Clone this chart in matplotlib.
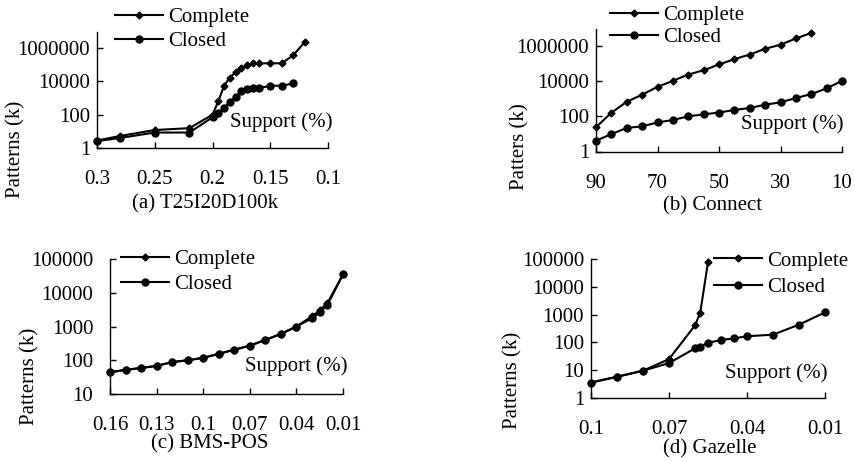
import matplotlib
matplotlib.use('Agg')
import matplotlib.pyplot as plt
from matplotlib.ticker import FixedLocator, FixedFormatter, NullLocator
from matplotlib.lines import Line2D

# ---------------- data ----------------
a_x_complete = [0.3, 0.28, 0.25, 0.22, 0.2, 0.195, 0.19, 0.185, 0.18, 0.175, 0.17, 0.165, 0.16, 0.15, 0.14, 0.13, 0.12]
a_complete = [2.8, 5.3, 12, 15.6, 100, 640, 5500, 17000, 36000, 61000, 97000, 123000, 123000, 123000, 123000, 380000, 2400000]
a_x_closed = [0.3, 0.28, 0.25, 0.22, 0.2, 0.195, 0.19, 0.185, 0.18, 0.175, 0.17, 0.165, 0.16, 0.15, 0.14, 0.13]
a_closed = [2.6, 4, 8.5, 8.5, 70, 120, 250, 590, 1200, 2500, 3300, 3900, 3900, 5500, 5500, 7600]

b_x_complete = [90, 85, 80, 75, 70, 65, 60, 55, 50, 45, 40, 35, 30, 25, 20]
b_complete = [24, 160, 680, 1700, 4800, 10500, 24000, 42000, 90000, 180000, 330000, 700000, 1200000, 2700000, 5600000]
b_x_closed = [90, 85, 80, 75, 70, 65, 60, 55, 50, 45, 40, 35, 30, 25, 20, 15, 10]
b_closed = [4.1, 9.8, 22, 27, 45, 62, 100, 130, 165, 230, 300, 460, 630, 1100, 1850, 3900, 10500]

c_x = [0.16, 0.15, 0.14, 0.13, 0.12, 0.11, 0.10, 0.09, 0.08, 0.07, 0.06, 0.05, 0.04, 0.03, 0.025, 0.02, 0.01]
c_complete = [44, 52, 59, 68, 88, 100, 118, 155, 205, 270, 400, 600, 1000, 2000, 3000, 5000, 35000]
c_closed = [44, 52, 59, 68, 88, 100, 118, 155, 205, 270, 400, 600, 1000, 1750, 2600, 4400, 35000]

d_x_complete = [0.1, 0.09, 0.08, 0.07, 0.06, 0.058, 0.055]
d_complete = [3.6, 5.8, 9.6, 25, 410, 1170, 76000]
d_x_closed = [0.1, 0.09, 0.08, 0.07, 0.06, 0.058, 0.055, 0.05, 0.045, 0.04, 0.03, 0.02, 0.01]
d_closed = [3.6, 5.8, 9.6, 18, 61, 70, 97, 122, 140, 166, 190, 435, 1200]

series_names = ["Complete", "Closed"]

a_xticks = [0.3, 0.25, 0.2, 0.15, 0.1]
a_xticklabels = ["0.3", "0.25", "0.2", "0.15", "0.1"]
b_xticks = [90, 70, 50, 30, 10]
b_xticklabels = ["90", "70", "50", "30", "10"]
c_xticks = [0.16, 0.13, 0.1, 0.07, 0.04, 0.01]
c_xticklabels = ["0.16", "0.13", "0.1", "0.07", "0.04", "0.01"]
d_xticks = [0.1, 0.07, 0.04, 0.01]
d_xticklabels = ["0.1", "0.07", "0.04", "0.01"]

ab_yticks = [1, 100, 10000, 1000000]
ab_yticklabels = ["1", "100", "10000", "1000000"]
c_yticks = [10, 100, 1000, 10000, 100000]
c_yticklabels = ["10", "100", "1000", "10000", "100000"]
d_yticks = [1, 10, 100, 1000, 10000, 100000]
d_yticklabels = ["1", "10", "100", "1000", "10000", "100000"]

# ---------------- figure ----------------
plt.rcParams['font.family'] = ['Liberation Serif', 'DejaVu Serif']
FS = 15
W, H = 855, 462
fig = plt.figure(figsize=(W / 100, H / 100), dpi=100)


def rect(l, t, r, b):
    return [l / W, 1 - b / H, (r - l) / W, (b - t) / H]


def ftext(x, y, s, **kw):
    fig.text(x / W, 1 - y / H, s, fontsize=FS, **kw)


def setup(ax, xlim, ylim, xt, xtl, yt, ytl, ypad):
    ax.set_yscale('log')
    ax.set_xlim(*xlim)
    ax.set_ylim(*ylim)
    ax.xaxis.set_major_locator(FixedLocator(xt))
    ax.xaxis.set_major_formatter(FixedFormatter(xtl))
    ax.yaxis.set_major_locator(FixedLocator(yt))
    ax.yaxis.set_major_formatter(FixedFormatter(ytl))
    ax.xaxis.set_minor_locator(NullLocator())
    ax.yaxis.set_minor_locator(NullLocator())
    for s in ['top', 'right']:
        ax.spines[s].set_visible(False)
    for s in ['left', 'bottom']:
        ax.spines[s].set_linewidth(1.0)
    ax.tick_params(axis='x', direction='in', length=4, width=1, labelsize=FS, pad=16)
    ax.tick_params(axis='y', direction='in', length=4, width=1, labelsize=FS, pad=ypad)
    ax.patch.set_alpha(0)


def plot_lines(ax, xc, yc, xd, yd):
    l1, = ax.plot(xc, yc, color='black', lw=1.5, marker='D', ms=3.5, clip_on=False, label=series_names[0])
    l2, = ax.plot(xd, yd, color='black', lw=1.5, marker='o', ms=5, clip_on=False, label=series_names[1])
    return [l1, l2]


def legend(ax, x, y, spacing):
    h = [Line2D([], [], color='black', lw=1.5, marker='D', ms=3.5),
         Line2D([], [], color='black', lw=1.5, marker='o', ms=5)]
    ax.legend(h, series_names, loc='upper left', bbox_to_anchor=(x / W, 1 - y / H),
              bbox_transform=fig.transFigure, frameon=False, fontsize=FS,
              handlelength=2.3, handletextpad=0.25, borderpad=0, borderaxespad=0,
              labelspacing=spacing, numpoints=1)


# (a)
axa = fig.add_axes(rect(97, 31.5, 328, 148))
setup(axa, (0.3, 0.1), (1, 1e7), a_xticks, a_xticklabels, ab_yticks, ab_yticklabels, 5)
plot_lines(axa, a_x_complete, a_complete, a_x_closed, a_closed)
legend(axa, 115, 7.5, 0.2)
ftext(281, 122, "Support (%)", ha='center', va='center')
ftext(16, 149, "Patterns (k)", ha='center', va='center', rotation=90)
ftext(205, 204, "(a) T25I20D100k", ha='center', va='center')

# (b)
axb = fig.add_axes(rect(596, 28.5, 842, 151.5))
setup(axb, (90, 10), (1, 1e7), b_xticks, b_xticklabels, ab_yticks, ab_yticklabels, 5)
plot_lines(axb, b_x_complete, b_complete, b_x_closed, b_closed)
legend(axb, 610, 5.5, 0.12)
ftext(792, 124, "Support (%)", ha='center', va='center')
ftext(520, 147, "Patters (k)", ha='center', va='center', rotation=90)
ftext(713, 206, "(b) Connect", ha='center', va='center')

# (c)
axc = fig.add_axes(rect(110, 259, 343, 394))
setup(axc, (0.16, 0.01), (10, 1e5), c_xticks, c_xticklabels, c_yticks, c_yticklabels, 12)
plot_lines(axc, c_x, c_complete, c_x, c_closed)
legend(axc, 121, 249.5, 0.25)
ftext(296, 366, "Support (%)", ha='center', va='center')
ftext(30, 376, "Patterns (k)", ha='center', va='center', rotation=90)
ftext(210, 444, "(c) BMS-POS", ha='center', va='center')

# (d)
axd = fig.add_axes(rect(591, 259, 825, 398))
setup(axd, (0.1, 0.01), (1, 1e5), d_xticks, d_xticklabels, d_yticks, d_yticklabels, 5)
plot_lines(axd, d_x_complete, d_complete, d_x_closed, d_closed)
legend(axd, 714, 251, 0.32)
ftext(776, 373, "Support (%)", ha='center', va='center')
ftext(513, 380, "Patterns (k)", ha='center', va='center', rotation=90)
ftext(710, 449, "(d) Gazelle", ha='center', va='center')

fig.savefig('out.png', dpi=100)
